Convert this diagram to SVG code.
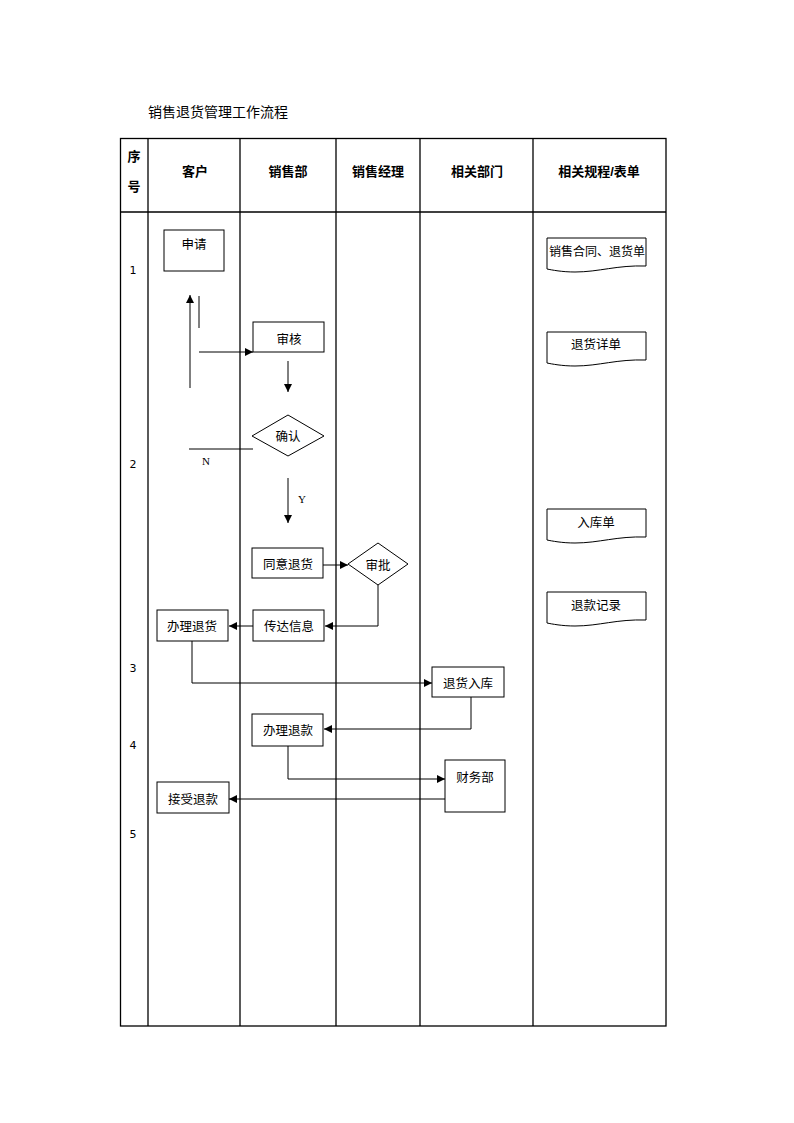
<svg xmlns="http://www.w3.org/2000/svg" width="794" height="1123" viewBox="0 0 794 1123">
<style>
.t{font-family:"Liberation Sans","Noto Sans CJK SC",sans-serif;fill:#000}
.h{font-size:13px;font-weight:bold;text-anchor:middle}
.n{font-size:12.5px;text-anchor:middle;dominant-baseline:central}
.num{font-size:11px;text-anchor:middle;font-family:"DejaVu Sans",sans-serif}
.lbl{font-family:"Liberation Serif",serif;font-size:11px;text-anchor:middle;fill:#000}
.grid{stroke:#000;stroke-width:1.3;fill:none}
.box{stroke:#000;stroke-width:1;fill:#fff}
.ln{stroke:#000;stroke-width:1;fill:none}
.arr{stroke:#000;stroke-width:1;fill:none;marker-end:url(#ah)}
</style>
<defs>
<marker id="ah" markerUnits="userSpaceOnUse" markerWidth="9" markerHeight="8" refX="8" refY="4" orient="auto">
<path d="M0,0 L8,4 L0,8 z" fill="#000"/>
</marker>
<path id="doc" d="M0,0 H99 V28 C70,27 52,34 28,34 C15,34 5,32 0,31 Z"/>
</defs>
<rect width="794" height="1123" fill="#fff"/>
<text class="t" x="148" y="117" font-size="14">销售退货管理工作流程</text>
<g id="table">
<rect class="grid" x="120.5" y="138.5" width="545.5" height="887.5"/>
<line class="grid" x1="120" y1="212" x2="666" y2="212"/>
<line class="grid" x1="148" y1="138" x2="148" y2="1026"/>
<line class="grid" x1="240" y1="138" x2="240" y2="1026"/>
<line class="grid" x1="336" y1="138" x2="336" y2="1026"/>
<line class="grid" x1="420" y1="138" x2="420" y2="1026"/>
<line class="grid" x1="533" y1="138" x2="533" y2="1026"/>
<text class="t h" x="134" y="161">序</text>
<text class="t h" x="134" y="191">号</text>
<text class="t h" x="195" y="176">客户</text>
<text class="t h" x="288" y="176">销售部</text>
<text class="t h" x="378" y="176">销售经理</text>
<text class="t h" x="477" y="176">相关部门</text>
<text class="t h" x="599" y="176">相关规程/表单</text>
<text class="t num" x="133" y="274">1</text>
<text class="t num" x="133" y="468">2</text>
<text class="t num" x="133" y="672">3</text>
<text class="t num" x="133" y="749">4</text>
<text class="t num" x="133" y="838">5</text>
</g>
<g id="connectors">
<line class="arr" x1="190" y1="388" x2="190" y2="295"/>
<line class="ln" x1="199" y1="296" x2="199" y2="328"/>
<line class="arr" x1="199" y1="352" x2="253" y2="352"/>
<line class="arr" x1="288" y1="361" x2="288" y2="392"/>
<line class="ln" x1="189" y1="449" x2="253" y2="449"/>
<text class="lbl" x="206" y="465">N</text>
<line class="arr" x1="288" y1="478" x2="288" y2="523"/>
<text class="lbl" x="302" y="503">Y</text>
<line class="arr" x1="323" y1="565" x2="348" y2="565"/>
<polyline class="arr" points="378,585 378,626 325,626"/>
<line class="arr" x1="253" y1="626" x2="229" y2="626"/>
<polyline class="arr" points="192,641 192,683 432,683"/>
<polyline class="arr" points="471,697 471,729 324,729"/>
<polyline class="arr" points="288,746 288,779 445,779"/>
<line class="arr" x1="445" y1="799" x2="229" y2="799"/>
</g>
<g id="n-apply"><rect class="box" x="164" y="230" width="60" height="41"/><text class="t n" x="194" y="245">申请</text></g>
<g id="n-review"><rect class="box" x="253" y="322" width="71" height="30"/><text class="t n" x="289" y="339.5">审核</text></g>
<g id="n-confirm"><polygon class="box" points="252,436 288,415 324,436 288,456"/><text class="t n" x="288" y="437">确认</text></g>
<g id="n-agree"><rect class="box" x="252" y="548" width="71" height="30"/><text class="t n" x="288" y="565">同意退货</text></g>
<g id="n-approve"><polygon class="box" points="348,564 378,543 408,564 378,585"/><text class="t n" x="378" y="566">审批</text></g>
<g id="n-notify"><rect class="box" x="253" y="610" width="71" height="31"/><text class="t n" x="289" y="627">传达信息</text></g>
<g id="n-handle"><rect class="box" x="157" y="610" width="71" height="31"/><text class="t n" x="192" y="627">办理退货</text></g>
<g id="n-stock"><rect class="box" x="432" y="667" width="72" height="30"/><text class="t n" x="468" y="684">退货入库</text></g>
<g id="n-refund"><rect class="box" x="252" y="714" width="71" height="32"/><text class="t n" x="288" y="731">办理退款</text></g>
<g id="n-finance"><rect class="box" x="445" y="760" width="60" height="52"/><text class="t n" x="475" y="778">财务部</text></g>
<g id="n-receive"><rect class="box" x="157" y="782" width="72" height="31"/><text class="t n" x="193" y="800">接受退款</text></g>
<g id="d-contract"><use href="#doc" x="547" y="238" class="box"/><text class="t n" x="597" y="252" style="font-size:12px">销售合同、退货单</text></g>
<g id="d-detail"><use href="#doc" x="547" y="332" class="box"/><text class="t n" x="596" y="345">退货详单</text></g>
<g id="d-instock"><use href="#doc" x="547" y="509" class="box"/><text class="t n" x="596" y="523">入库单</text></g>
<g id="d-record"><use href="#doc" x="547" y="592" class="box"/><text class="t n" x="596" y="606">退款记录</text></g>
</svg>
